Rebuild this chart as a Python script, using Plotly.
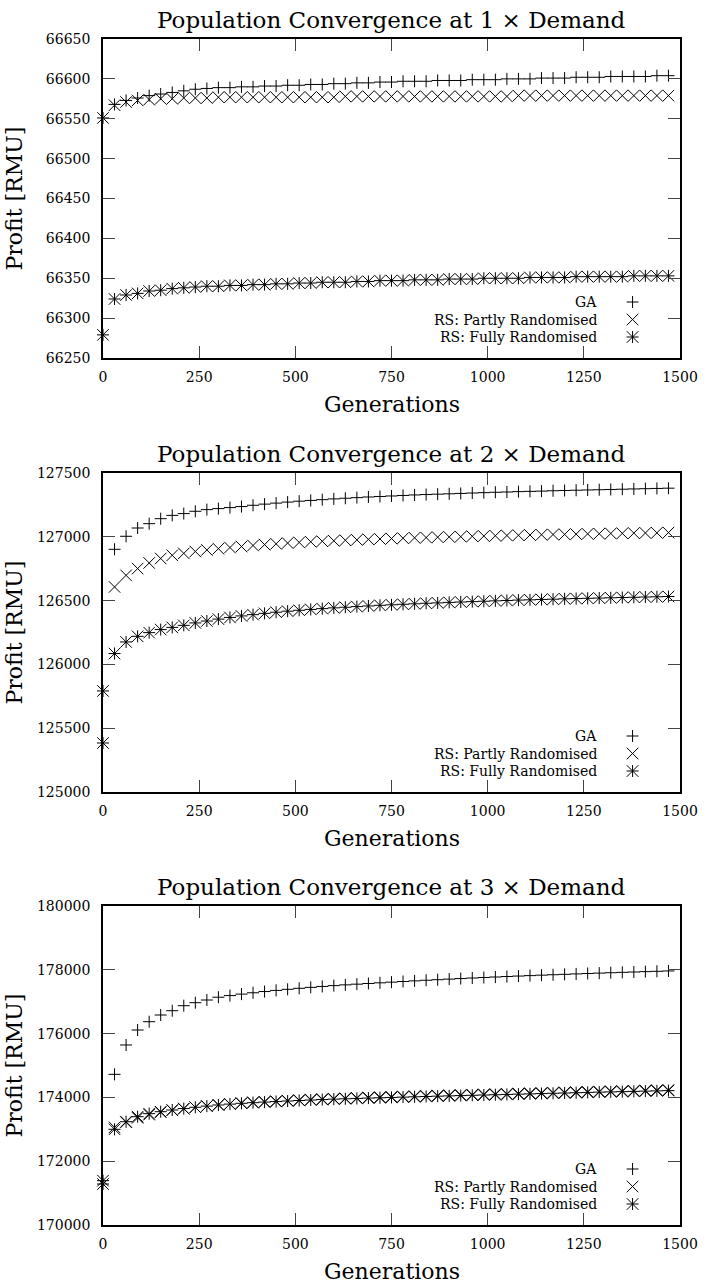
import plotly.graph_objects as go

# ---------------- data ----------------
generations = [0, 30, 60, 90, 120, 150, 180, 210, 240, 270, 300, 330, 360, 390, 420, 450, 480, 510, 540, 570,
               600, 630, 660, 690, 720, 750, 780, 810, 840, 870, 900, 930, 960, 990, 1020, 1050, 1080, 1110, 1140, 1170,
               1200, 1230, 1260, 1290, 1320, 1350, 1380, 1410, 1440, 1470]

titles = ["Population Convergence at 1 × Demand",
          "Population Convergence at 2 × Demand",
          "Population Convergence at 3 × Demand"]
series_names = ["GA", "RS: Partly Randomised", "RS: Fully Randomised"]

ga_1 = [66551, 66568, 66573, 66576, 66579, 66581, 66583, 66585, 66587, 66588,
        66589, 66589, 66590, 66590, 66591, 66591, 66592, 66592, 66593, 66593,
        66594, 66594, 66595, 66595, 66596, 66596, 66597, 66597, 66597, 66598,
        66598, 66598, 66599, 66599, 66599, 66600, 66600, 66600, 66601, 66601,
        66601, 66602, 66602, 66602, 66603, 66603, 66603, 66603, 66604, 66604]
partly_1 = [66551, 66567, 66571, 66573, 66574, 66575, 66575, 66576, 66576, 66576,
            66577, 66577, 66577, 66577, 66577, 66577, 66577, 66577, 66577, 66577,
            66577, 66578, 66578, 66578, 66578, 66578, 66578, 66578, 66578, 66578,
            66578, 66578, 66578, 66578, 66578, 66578, 66579, 66579, 66579, 66579,
            66579, 66579, 66579, 66579, 66579, 66579, 66579, 66579, 66579, 66579]
fully_1 = [66279, 66324, 66329, 66331, 66334, 66335, 66337, 66338, 66339, 66340,
           66340, 66341, 66341, 66342, 66342, 66343, 66343, 66344, 66344, 66345,
           66345, 66345, 66346, 66346, 66347, 66347, 66347, 66348, 66348, 66348,
           66349, 66349, 66349, 66350, 66350, 66350, 66350, 66351, 66351, 66351,
           66351, 66352, 66352, 66352, 66352, 66352, 66353, 66353, 66353, 66353]

ga_2 = [125792, 126902, 127004, 127069, 127103, 127142, 127168, 127182, 127200, 127213,
        127221, 127229, 127237, 127247, 127256, 127264, 127272, 127279, 127285, 127291,
        127297, 127302, 127307, 127312, 127316, 127320, 127324, 127328, 127331, 127334,
        127337, 127340, 127343, 127346, 127349, 127351, 127354, 127356, 127358, 127361,
        127363, 127365, 127367, 127369, 127371, 127373, 127375, 127377, 127379, 127381]
partly_2 = [125792, 126607, 126698, 126751, 126795, 126830, 126855, 126870, 126885, 126897,
            126907, 126916, 126924, 126932, 126939, 126945, 126951, 126956, 126961, 126965,
            126969, 126973, 126976, 126980, 126983, 126986, 126989, 126992, 126994, 126997,
            126999, 127001, 127004, 127006, 127008, 127010, 127012, 127014, 127016, 127018,
            127019, 127021, 127023, 127024, 127026, 127027, 127029, 127030, 127031, 127033]
fully_2 = [125384, 126085, 126176, 126220, 126249, 126273, 126290, 126306, 126325, 126340,
           126355, 126368, 126380, 126390, 126400, 126409, 126417, 126424, 126431, 126437,
           126443, 126448, 126453, 126458, 126463, 126467, 126471, 126475, 126479, 126482,
           126486, 126489, 126492, 126495, 126498, 126501, 126504, 126506, 126509, 126511,
           126514, 126516, 126518, 126520, 126522, 126524, 126526, 126528, 126530, 126532]

ga_3 = [171390, 174723, 175643, 176113, 176373, 176583, 176718, 176875, 176969, 177053,
        177140, 177192, 177238, 177280, 177318, 177354, 177388, 177420, 177450, 177478,
        177504, 177528, 177550, 177571, 177592, 177613, 177633, 177653, 177672, 177690,
        177708, 177725, 177742, 177758, 177774, 177789, 177804, 177818, 177832, 177845,
        177858, 177871, 177884, 177896, 177908, 177920, 177931, 177942, 177953, 177964]
partly_3 = [171390, 173060, 173220, 173360, 173460, 173535, 173595, 173645, 173690, 173730,
            173768, 173797, 173823, 173844, 173863, 173881, 173898, 173915, 173931, 173946,
            173960, 173973, 173985, 173996, 174007, 174018, 174028, 174038, 174048, 174058,
            174068, 174077, 174086, 174095, 174104, 174113, 174122, 174131, 174140, 174149,
            174158, 174167, 174176, 174185, 174193, 174201, 174209, 174217, 174225, 174233]
fully_3 = [171285, 173000, 173238, 173395, 173490, 173552, 173605, 173650, 173690, 173727,
           173762, 173790, 173815, 173835, 173853, 173870, 173887, 173903, 173918, 173932,
           173945, 173957, 173968, 173979, 173989, 173999, 174009, 174019, 174029, 174039,
           174048, 174057, 174066, 174075, 174084, 174093, 174102, 174111, 174120, 174129,
           174138, 174147, 174156, 174165, 174173, 174181, 174189, 174197, 174205, 174213]

y_ranges = [[66250, 66650], [125000, 127500], [170000, 180000]]
y_dticks = [50, 500, 2000]
x_range = [0, 1500]
x_dtick = 250

panels = [(ga_1, partly_1, fully_1), (ga_2, partly_2, fully_2), (ga_3, partly_3, fully_3)]

# ---------------- layout geometry (pixels) ----------------
FW, FH = 710, 1285
L, R = 103, 687
panel_px = [(39, 358), (473, 792), (906, 1225)]  # top, bottom
T, B = panel_px[0][0], panel_px[-1][1]
PW, PH = R - L, B - T

def fx(px):
    return (px - L) / PW

def fy(py):
    return (B - py) / PH

FONT = "DejaVu Serif"
BLACK = "#000000"

fig = go.Figure()

PLUS = "M-6,0H6M0,-6V6"
CROSS = "M-5.8,-5.8L5.8,5.8M-5.8,5.8L5.8,-5.8"
symbol_paths = [PLUS, CROSS, PLUS + CROSS]

annotations = []
shapes = []

for i, (ga, partly, fully) in enumerate(panels):
    n = "" if i == 0 else str(i + 1)
    xa, ya = "x" + n, "y" + n
    mk = dict(color=BLACK, line=dict(color=BLACK, width=1))
    fig.add_trace(go.Scatter(x=generations, y=ga, mode="markers", xaxis=xa, yaxis=ya,
                             name=series_names[0], showlegend=False, cliponaxis=False,
                             marker=dict(symbol="cross-thin", size=8.6, **mk)))
    fig.add_trace(go.Scatter(x=generations, y=partly, mode="markers", xaxis=xa, yaxis=ya,
                             name=series_names[1], showlegend=False, cliponaxis=False,
                             marker=dict(symbol="x-thin", size=11.5, **mk)))
    # asterisk = plus + cross overlaid (gnuplot style)
    fig.add_trace(go.Scatter(x=generations, y=fully, mode="markers", xaxis=xa, yaxis=ya,
                             name=series_names[2], showlegend=False, cliponaxis=False,
                             marker=dict(symbol="cross-thin", size=8.6, **mk)))
    fig.add_trace(go.Scatter(x=generations, y=fully, mode="markers", xaxis=xa, yaxis=ya,
                             name=series_names[2], showlegend=False, cliponaxis=False,
                             marker=dict(symbol="x-thin", size=11.5, **mk)))

    top, bot = panel_px[i]
    axis_common = dict(showline=True, linecolor=BLACK, linewidth=1.6, mirror="ticks",
                       ticks="inside", ticklen=12, tickwidth=1, tickcolor="#444444",
                       showgrid=False, zeroline=False,
                       tickfont=dict(family=FONT, size=14, color=BLACK))
    fig.update_layout(**{
        "xaxis" + n: dict(domain=[0, 1], range=x_range, dtick=x_dtick, tick0=0,
                          anchor=ya, tickformat="d", ticklabelstandoff=5, **axis_common),
        "yaxis" + n: dict(domain=[fy(bot), fy(top)], range=y_ranges[i], dtick=y_dticks[i],
                          tick0=y_ranges[i][0], anchor=xa, tickformat="d",
                          ticklabelstandoff=8, **axis_common),
    })

    # title
    annotations.append(dict(text=titles[i], x=0.5, y=fy(top - 19), xref="paper", yref="paper",
                            xanchor="center", yanchor="middle", showarrow=False,
                            font=dict(family=FONT, size=23, color=BLACK)))
    # axis titles
    annotations.append(dict(text="Generations", x=0.5, y=fy(bot + 46), xref="paper", yref="paper",
                            xanchor="center", yanchor="middle", showarrow=False,
                            font=dict(family=FONT, size=22, color=BLACK)))
    annotations.append(dict(text="Profit [RMU]", x=fx(13), y=fy((top + bot) / 2),
                            xref="paper", yref="paper", textangle=-90,
                            xanchor="center", yanchor="middle", showarrow=False,
                            font=dict(family=FONT, size=22, color=BLACK)))
    # legend (text right-aligned, key on the right, gnuplot style)
    for k, off in enumerate([56, 38.5, 21]):
        annotations.append(dict(text=series_names[k], x=fx(605), y=fy(bot - off),
                                xref="paper", yref="paper", xanchor="right", yanchor="middle",
                                showarrow=False, font=dict(family=FONT, size=14, color=BLACK)))
        shapes.append(dict(type="path", xref="paper", yref="paper",
                           xsizemode="pixel", ysizemode="pixel",
                           xanchor=fx(639), yanchor=fy(bot - off),
                           path=symbol_paths[k], line=dict(color=BLACK, width=1)))

fig.update_layout(width=FW, height=FH,
                  margin=dict(l=L, r=FW - R, t=T, b=FH - B, pad=0),
                  paper_bgcolor="white", plot_bgcolor="white",
                  showlegend=False, annotations=annotations, shapes=shapes,
                  font=dict(family=FONT, color=BLACK))

fig.write_html("out.html")
